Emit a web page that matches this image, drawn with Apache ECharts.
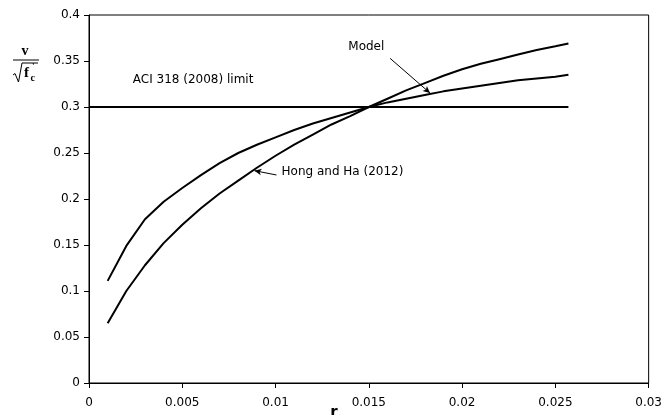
<!DOCTYPE html>
<html>
<head>
<meta charset="utf-8">
<script src="https://cdn.jsdelivr.net/npm/echarts@6/dist/echarts.min.js"></script>
<style>
  html, body { margin: 0; padding: 0; background: #fff; }
  #chart { width: 665px; height: 415px; }
</style>
</head>
<body>
<div id="chart"></div>
<script>
// ---- data ----
const xValues = [0.001, 0.002, 0.003, 0.004, 0.005, 0.006, 0.007, 0.008, 0.009, 0.010,
                 0.011, 0.012, 0.013, 0.014, 0.015, 0.016, 0.017, 0.018, 0.019, 0.020,
                 0.021, 0.022, 0.023, 0.024, 0.025, 0.0257];
const modelValues = [0.111, 0.149, 0.178, 0.197, 0.212, 0.226, 0.239, 0.250, 0.259, 0.267,
                     0.275, 0.282, 0.288, 0.294, 0.300, 0.305, 0.309, 0.313, 0.317, 0.320,
                     0.323, 0.326, 0.329, 0.331, 0.333, 0.335];
const hongHaValues = [0.065, 0.100, 0.128, 0.152, 0.172, 0.190, 0.206, 0.220, 0.234, 0.247,
                      0.259, 0.270, 0.281, 0.290, 0.300, 0.309, 0.318, 0.326, 0.334, 0.341,
                      0.347, 0.352, 0.357, 0.362, 0.366, 0.369];
const aciX = [0, 0.0257];
const aciY = [0.3, 0.3];
const xTickLabels = ['0', '0.005', '0.01', '0.015', '0.02', '0.025', '0.03'];
const yTickLabels = ['0', '0.05', '0.1', '0.15', '0.2', '0.25', '0.3', '0.35', '0.4'];

// annotations (data coordinates)
const annoTexts = ['ACI 318 (2008) limit', 'Model', 'Hong and Ha (2012)'];
const annoAnchors = [[0.00235, 0.3299], [0.0139, 0.3652], [0.01032, 0.2290]];
const modelArrow = [[0.01614, 0.3529], [0.01828, 0.3152]];
const hongArrow = [[0.01005, 0.2261], [0.00887, 0.2308]];

const FONT = 'DejaVu Sans';

const pairs = (xs, ys) => xs.map((x, i) => [x, ys[i]]);

const chart = echarts.init(document.getElementById('chart'), null, { renderer: 'canvas' });

const arrowMark = (a) => ({
  silent: true,
  symbol: ['none', 'arrow'],
  symbolSize: [5, 7],
  label: { show: false },
  lineStyle: { color: '#000', width: 1, type: 'solid' },
  emphasis: { disabled: true },
  animation: false,
  data: [[{ coord: a[0] }, { coord: a[1] }]]
});

chart.setOption({
  animation: false,
  backgroundColor: '#fff',
  grid: { left: 89, right: 11, top: 15, bottom: 32, show: true, borderColor: '#000', borderWidth: 1 },
  xAxis: {
    type: 'value', min: 0, max: 0.03, interval: 0.005,
    axisLine: { show: true, lineStyle: { color: '#000', width: 1 } },
    axisTick: { show: true, inside: false, length: 5, lineStyle: { color: '#000' } },
    splitLine: { show: false },
    axisLabel: {
      color: '#000', fontFamily: FONT, fontSize: 12, margin: 14,
      formatter: (v) => xTickLabels[Math.round(v / 0.005)]
    }
  },
  yAxis: {
    type: 'value', min: 0, max: 0.4, interval: 0.05,
    axisLine: { show: true, lineStyle: { color: '#000', width: 1 } },
    axisTick: { show: true, inside: false, length: 5, lineStyle: { color: '#000' } },
    splitLine: { show: false },
    axisLabel: {
      color: '#000', fontFamily: FONT, fontSize: 12, margin: 9,
      formatter: (v) => yTickLabels[Math.round(v / 0.05)]
    }
  },
  series: [
    {
      name: 'Model', type: 'line', data: pairs(xValues, modelValues),
      showSymbol: false, symbol: 'none', smooth: false,
      lineStyle: { color: '#000', width: 2 },
      markLine: arrowMark(modelArrow)
    },
    {
      name: 'Hong and Ha (2012)', type: 'line', data: pairs(xValues, hongHaValues),
      showSymbol: false, symbol: 'none', smooth: false,
      lineStyle: { color: '#000', width: 2 },
      markLine: arrowMark(hongArrow)
    },
    {
      name: 'ACI 318 (2008) limit', type: 'line', data: pairs(aciX, aciY),
      showSymbol: false, symbol: 'none',
      lineStyle: { color: '#000', width: 2 }
    }
  ]
});

// annotation texts anchored in data coordinates
const annoGraphics = annoTexts.map((t, i) => {
  const p = chart.convertToPixel({ gridIndex: 0 }, annoAnchors[i]);
  return {
    type: 'text', x: p[0], y: p[1], silent: true,
    style: { text: t, fill: '#000', font: '12px "' + FONT + '"', textAlign: 'left', textVerticalAlign: 'middle' }
  };
});

// y axis name: v / sqrt(f'c)
const yName = [
  { type: 'text', x: 25, y: 51, silent: true,
    style: { text: 'v', fill: '#000', font: 'bold 14px "Liberation Serif"', textAlign: 'center', textVerticalAlign: 'middle' } },
  { type: 'line', silent: true, shape: { x1: 13, y1: 60, x2: 39, y2: 60 }, style: { stroke: '#000', lineWidth: 1 } },
  { type: 'polyline', silent: true, shape: { points: [[13, 75], [15, 73.5], [18.5, 82], [22, 63], [38, 63]] },
    style: { stroke: '#000', lineWidth: 1, fill: null } },
  { type: 'text', x: 24, y: 73, silent: true,
    style: { text: 'f', fill: '#000', font: 'bold 15px "Liberation Serif"', textAlign: 'left', textVerticalAlign: 'middle' } },
  { type: 'text', x: 32, y: 67, silent: true,
    style: { text: "'", fill: '#000', font: 'bold 9px "Liberation Serif"', textAlign: 'left', textVerticalAlign: 'middle' } },
  { type: 'text', x: 30.5, y: 78, silent: true,
    style: { text: 'c', fill: '#000', font: 'bold 10px "Liberation Serif"', textAlign: 'left', textVerticalAlign: 'middle' } }
];

// x axis name (clipped at bottom as in the reference)
const xName = {
  type: 'text', x: 334, y: 406, silent: true,
  style: { text: 'r', fill: '#000', font: 'bold 15px "DejaVu Sans"', textAlign: 'center', textVerticalAlign: 'top' }
};

chart.setOption({ graphic: annoGraphics.concat(yName, [xName]) });
</script>
</body>
</html>
